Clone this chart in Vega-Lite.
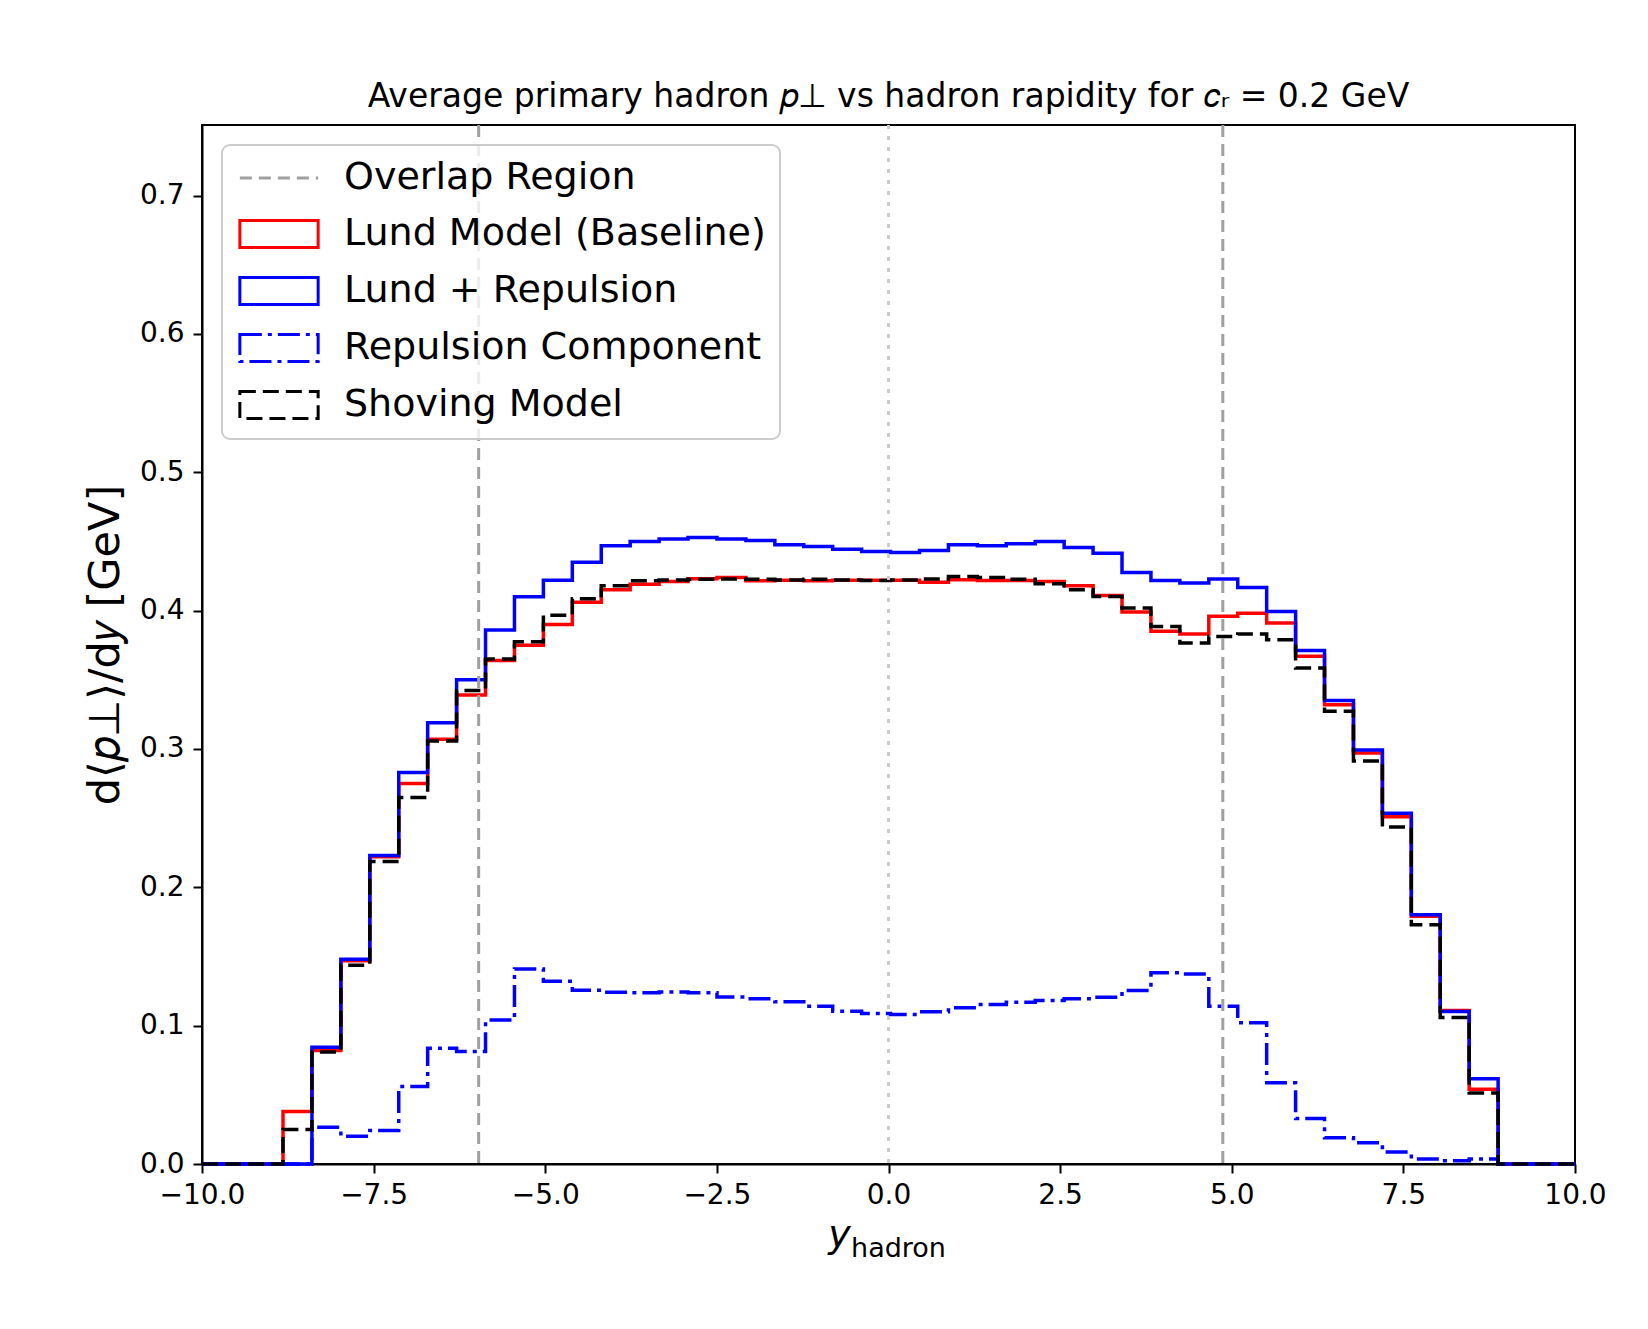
{
  "$schema": "https://vega.github.io/schema/vega-lite/v6.json",
  "width": 1373,
  "height": 1039,
  "autosize": {"type": "none"},
  "padding": {"left": 202, "top": 125, "right": 73, "bottom": 165},
  "background": "#ffffff",
  "title": {
    "text": "Average primary hadron 𝑝⊥ vs hadron rapidity for 𝑐ᵣ = 0.2 GeV",
    "fontSize": 33,
    "fontWeight": "normal",
    "font": "DejaVu Sans",
    "color": "#000000",
    "anchor": "middle",
    "baseline": "alphabetic",
    "offset": -16
  },
  "datasets": {
    "hist": [
      {"series":"Lund Model (Baseline)","rapidity":-10,"pt":0},
      {"series":"Lund Model (Baseline)","rapidity":-8.82,"pt":0.038},
      {"series":"Lund Model (Baseline)","rapidity":-8.3986,"pt":0.082},
      {"series":"Lund Model (Baseline)","rapidity":-7.9771,"pt":0.147},
      {"series":"Lund Model (Baseline)","rapidity":-7.5557,"pt":0.222},
      {"series":"Lund Model (Baseline)","rapidity":-7.1343,"pt":0.275},
      {"series":"Lund Model (Baseline)","rapidity":-6.7129,"pt":0.307},
      {"series":"Lund Model (Baseline)","rapidity":-6.2914,"pt":0.339},
      {"series":"Lund Model (Baseline)","rapidity":-5.87,"pt":0.364},
      {"series":"Lund Model (Baseline)","rapidity":-5.4486,"pt":0.375},
      {"series":"Lund Model (Baseline)","rapidity":-5.0271,"pt":0.390},
      {"series":"Lund Model (Baseline)","rapidity":-4.6057,"pt":0.406},
      {"series":"Lund Model (Baseline)","rapidity":-4.1843,"pt":0.415},
      {"series":"Lund Model (Baseline)","rapidity":-3.7629,"pt":0.419},
      {"series":"Lund Model (Baseline)","rapidity":-3.3414,"pt":0.421},
      {"series":"Lund Model (Baseline)","rapidity":-2.92,"pt":0.423},
      {"series":"Lund Model (Baseline)","rapidity":-2.4986,"pt":0.424},
      {"series":"Lund Model (Baseline)","rapidity":-2.0771,"pt":0.4215},
      {"series":"Lund Model (Baseline)","rapidity":-1.6557,"pt":0.422},
      {"series":"Lund Model (Baseline)","rapidity":-1.2343,"pt":0.4215},
      {"series":"Lund Model (Baseline)","rapidity":-0.8129,"pt":0.422},
      {"series":"Lund Model (Baseline)","rapidity":-0.3914,"pt":0.422},
      {"series":"Lund Model (Baseline)","rapidity":0.03,"pt":0.422},
      {"series":"Lund Model (Baseline)","rapidity":0.4514,"pt":0.4205},
      {"series":"Lund Model (Baseline)","rapidity":0.8729,"pt":0.4223},
      {"series":"Lund Model (Baseline)","rapidity":1.2943,"pt":0.4218},
      {"series":"Lund Model (Baseline)","rapidity":1.7157,"pt":0.4218},
      {"series":"Lund Model (Baseline)","rapidity":2.1371,"pt":0.421},
      {"series":"Lund Model (Baseline)","rapidity":2.5586,"pt":0.418},
      {"series":"Lund Model (Baseline)","rapidity":2.98,"pt":0.411},
      {"series":"Lund Model (Baseline)","rapidity":3.4014,"pt":0.399},
      {"series":"Lund Model (Baseline)","rapidity":3.8229,"pt":0.385},
      {"series":"Lund Model (Baseline)","rapidity":4.2443,"pt":0.383},
      {"series":"Lund Model (Baseline)","rapidity":4.6657,"pt":0.396},
      {"series":"Lund Model (Baseline)","rapidity":5.0871,"pt":0.398},
      {"series":"Lund Model (Baseline)","rapidity":5.5086,"pt":0.391},
      {"series":"Lund Model (Baseline)","rapidity":5.93,"pt":0.367},
      {"series":"Lund Model (Baseline)","rapidity":6.3514,"pt":0.332},
      {"series":"Lund Model (Baseline)","rapidity":6.7729,"pt":0.297},
      {"series":"Lund Model (Baseline)","rapidity":7.1943,"pt":0.251},
      {"series":"Lund Model (Baseline)","rapidity":7.6157,"pt":0.179},
      {"series":"Lund Model (Baseline)","rapidity":8.0371,"pt":0.111},
      {"series":"Lund Model (Baseline)","rapidity":8.4586,"pt":0.054},
      {"series":"Lund Model (Baseline)","rapidity":8.88,"pt":0},
      {"series":"Lund Model (Baseline)","rapidity":10,"pt":0},

      {"series":"Lund + Repulsion","rapidity":-10,"pt":0},
      {"series":"Lund + Repulsion","rapidity":-8.82,"pt":0},
      {"series":"Lund + Repulsion","rapidity":-8.3986,"pt":0.0843},
      {"series":"Lund + Repulsion","rapidity":-7.9771,"pt":0.148},
      {"series":"Lund + Repulsion","rapidity":-7.5557,"pt":0.223},
      {"series":"Lund + Repulsion","rapidity":-7.1343,"pt":0.283},
      {"series":"Lund + Repulsion","rapidity":-6.7129,"pt":0.319},
      {"series":"Lund + Repulsion","rapidity":-6.2914,"pt":0.350},
      {"series":"Lund + Repulsion","rapidity":-5.87,"pt":0.386},
      {"series":"Lund + Repulsion","rapidity":-5.4486,"pt":0.410},
      {"series":"Lund + Repulsion","rapidity":-5.0271,"pt":0.422},
      {"series":"Lund + Repulsion","rapidity":-4.6057,"pt":0.435},
      {"series":"Lund + Repulsion","rapidity":-4.1843,"pt":0.4468},
      {"series":"Lund + Repulsion","rapidity":-3.7629,"pt":0.450},
      {"series":"Lund + Repulsion","rapidity":-3.3414,"pt":0.4517},
      {"series":"Lund + Repulsion","rapidity":-2.92,"pt":0.4528},
      {"series":"Lund + Repulsion","rapidity":-2.4986,"pt":0.4517},
      {"series":"Lund + Repulsion","rapidity":-2.0771,"pt":0.4507},
      {"series":"Lund + Repulsion","rapidity":-1.6557,"pt":0.4476},
      {"series":"Lund + Repulsion","rapidity":-1.2343,"pt":0.4464},
      {"series":"Lund + Repulsion","rapidity":-0.8129,"pt":0.4444},
      {"series":"Lund + Repulsion","rapidity":-0.3914,"pt":0.4427},
      {"series":"Lund + Repulsion","rapidity":0.03,"pt":0.442},
      {"series":"Lund + Repulsion","rapidity":0.4514,"pt":0.4434},
      {"series":"Lund + Repulsion","rapidity":0.8729,"pt":0.4476},
      {"series":"Lund + Repulsion","rapidity":1.2943,"pt":0.4468},
      {"series":"Lund + Repulsion","rapidity":1.7157,"pt":0.4483},
      {"series":"Lund + Repulsion","rapidity":2.1371,"pt":0.450},
      {"series":"Lund + Repulsion","rapidity":2.5586,"pt":0.4456},
      {"series":"Lund + Repulsion","rapidity":2.98,"pt":0.4415},
      {"series":"Lund + Repulsion","rapidity":3.4014,"pt":0.4276},
      {"series":"Lund + Repulsion","rapidity":3.8229,"pt":0.4218},
      {"series":"Lund + Repulsion","rapidity":4.2443,"pt":0.4199},
      {"series":"Lund + Repulsion","rapidity":4.6657,"pt":0.4228},
      {"series":"Lund + Repulsion","rapidity":5.0871,"pt":0.4167},
      {"series":"Lund + Repulsion","rapidity":5.5086,"pt":0.3994},
      {"series":"Lund + Repulsion","rapidity":5.93,"pt":0.3712},
      {"series":"Lund + Repulsion","rapidity":6.3514,"pt":0.335},
      {"series":"Lund + Repulsion","rapidity":6.7729,"pt":0.2993},
      {"series":"Lund + Repulsion","rapidity":7.1943,"pt":0.2536},
      {"series":"Lund + Repulsion","rapidity":7.6157,"pt":0.1802},
      {"series":"Lund + Repulsion","rapidity":8.0371,"pt":0.1102},
      {"series":"Lund + Repulsion","rapidity":8.4586,"pt":0.0617},
      {"series":"Lund + Repulsion","rapidity":8.88,"pt":0},
      {"series":"Lund + Repulsion","rapidity":10,"pt":0},

      {"series":"Repulsion Component","rapidity":-10,"pt":0},
      {"series":"Repulsion Component","rapidity":-8.82,"pt":0},
      {"series":"Repulsion Component","rapidity":-8.3986,"pt":0.0266},
      {"series":"Repulsion Component","rapidity":-7.9771,"pt":0.020},
      {"series":"Repulsion Component","rapidity":-7.5557,"pt":0.0243},
      {"series":"Repulsion Component","rapidity":-7.1343,"pt":0.056},
      {"series":"Repulsion Component","rapidity":-6.7129,"pt":0.0837},
      {"series":"Repulsion Component","rapidity":-6.2914,"pt":0.0814},
      {"series":"Repulsion Component","rapidity":-5.87,"pt":0.104},
      {"series":"Repulsion Component","rapidity":-5.4486,"pt":0.141},
      {"series":"Repulsion Component","rapidity":-5.0271,"pt":0.1321},
      {"series":"Repulsion Component","rapidity":-4.6057,"pt":0.1256},
      {"series":"Repulsion Component","rapidity":-4.1843,"pt":0.1242},
      {"series":"Repulsion Component","rapidity":-3.7629,"pt":0.1237},
      {"series":"Repulsion Component","rapidity":-3.3414,"pt":0.1244},
      {"series":"Repulsion Component","rapidity":-2.92,"pt":0.1237},
      {"series":"Repulsion Component","rapidity":-2.4986,"pt":0.1208},
      {"series":"Repulsion Component","rapidity":-2.0771,"pt":0.1194},
      {"series":"Repulsion Component","rapidity":-1.6557,"pt":0.1172},
      {"series":"Repulsion Component","rapidity":-1.2343,"pt":0.1141},
      {"series":"Repulsion Component","rapidity":-0.8129,"pt":0.1105},
      {"series":"Repulsion Component","rapidity":-0.3914,"pt":0.1088},
      {"series":"Repulsion Component","rapidity":0.03,"pt":0.108},
      {"series":"Repulsion Component","rapidity":0.4514,"pt":0.110},
      {"series":"Repulsion Component","rapidity":0.8729,"pt":0.1129},
      {"series":"Repulsion Component","rapidity":1.2943,"pt":0.1153},
      {"series":"Repulsion Component","rapidity":1.7157,"pt":0.117},
      {"series":"Repulsion Component","rapidity":2.1371,"pt":0.1182},
      {"series":"Repulsion Component","rapidity":2.5586,"pt":0.1194},
      {"series":"Repulsion Component","rapidity":2.98,"pt":0.1206},
      {"series":"Repulsion Component","rapidity":3.4014,"pt":0.1254},
      {"series":"Repulsion Component","rapidity":3.8229,"pt":0.1382},
      {"series":"Repulsion Component","rapidity":4.2443,"pt":0.1374},
      {"series":"Repulsion Component","rapidity":4.6657,"pt":0.1141},
      {"series":"Repulsion Component","rapidity":5.0871,"pt":0.1021},
      {"series":"Repulsion Component","rapidity":5.5086,"pt":0.0587},
      {"series":"Repulsion Component","rapidity":5.93,"pt":0.0329},
      {"series":"Repulsion Component","rapidity":6.3514,"pt":0.019},
      {"series":"Repulsion Component","rapidity":6.7729,"pt":0.0154},
      {"series":"Repulsion Component","rapidity":7.1943,"pt":0.0086},
      {"series":"Repulsion Component","rapidity":7.6157,"pt":0.0037},
      {"series":"Repulsion Component","rapidity":8.0371,"pt":0.0023},
      {"series":"Repulsion Component","rapidity":8.4586,"pt":0.0037},
      {"series":"Repulsion Component","rapidity":8.88,"pt":0},
      {"series":"Repulsion Component","rapidity":10,"pt":0},

      {"series":"Shoving Model","rapidity":-10,"pt":0},
      {"series":"Shoving Model","rapidity":-8.82,"pt":0.025},
      {"series":"Shoving Model","rapidity":-8.3986,"pt":0.081},
      {"series":"Shoving Model","rapidity":-7.9771,"pt":0.1437},
      {"series":"Shoving Model","rapidity":-7.5557,"pt":0.2186},
      {"series":"Shoving Model","rapidity":-7.1343,"pt":0.265},
      {"series":"Shoving Model","rapidity":-6.7129,"pt":0.3057},
      {"series":"Shoving Model","rapidity":-6.2914,"pt":0.3423},
      {"series":"Shoving Model","rapidity":-5.87,"pt":0.3651},
      {"series":"Shoving Model","rapidity":-5.4486,"pt":0.3774},
      {"series":"Shoving Model","rapidity":-5.0271,"pt":0.3966},
      {"series":"Shoving Model","rapidity":-4.6057,"pt":0.4085},
      {"series":"Shoving Model","rapidity":-4.1843,"pt":0.418},
      {"series":"Shoving Model","rapidity":-3.7629,"pt":0.4215},
      {"series":"Shoving Model","rapidity":-3.3414,"pt":0.4222},
      {"series":"Shoving Model","rapidity":-2.92,"pt":0.4226},
      {"series":"Shoving Model","rapidity":-2.4986,"pt":0.4229},
      {"series":"Shoving Model","rapidity":-2.0771,"pt":0.4226},
      {"series":"Shoving Model","rapidity":-1.6557,"pt":0.4222},
      {"series":"Shoving Model","rapidity":-1.2343,"pt":0.4226},
      {"series":"Shoving Model","rapidity":-0.8129,"pt":0.4222},
      {"series":"Shoving Model","rapidity":-0.3914,"pt":0.4218},
      {"series":"Shoving Model","rapidity":0.03,"pt":0.4222},
      {"series":"Shoving Model","rapidity":0.4514,"pt":0.4229},
      {"series":"Shoving Model","rapidity":0.8729,"pt":0.4247},
      {"series":"Shoving Model","rapidity":1.2943,"pt":0.4239},
      {"series":"Shoving Model","rapidity":1.7157,"pt":0.4226},
      {"series":"Shoving Model","rapidity":2.1371,"pt":0.4194},
      {"series":"Shoving Model","rapidity":2.5586,"pt":0.415},
      {"series":"Shoving Model","rapidity":2.98,"pt":0.4102},
      {"series":"Shoving Model","rapidity":3.4014,"pt":0.4018},
      {"series":"Shoving Model","rapidity":3.8229,"pt":0.3885},
      {"series":"Shoving Model","rapidity":4.2443,"pt":0.3766},
      {"series":"Shoving Model","rapidity":4.6657,"pt":0.3813},
      {"series":"Shoving Model","rapidity":5.0871,"pt":0.383},
      {"series":"Shoving Model","rapidity":5.5086,"pt":0.379},
      {"series":"Shoving Model","rapidity":5.93,"pt":0.3586},
      {"series":"Shoving Model","rapidity":6.3514,"pt":0.3272},
      {"series":"Shoving Model","rapidity":6.7729,"pt":0.2913},
      {"series":"Shoving Model","rapidity":7.1943,"pt":0.2436},
      {"series":"Shoving Model","rapidity":7.6157,"pt":0.173},
      {"series":"Shoving Model","rapidity":8.0371,"pt":0.1059},
      {"series":"Shoving Model","rapidity":8.4586,"pt":0.0514},
      {"series":"Shoving Model","rapidity":8.88,"pt":0},
      {"series":"Shoving Model","rapidity":10,"pt":0}
    ],
    "overlap": [
      {"series":"Overlap Region","rapidity":-5.97},
      {"series":"Overlap Region","rapidity":4.87}
    ]
  },
  "layer": [
    {
      "data": {"name": "hist"},
      "mark": {"type": "line", "interpolate": "step-after", "strokeWidth": 3.5},
      "encoding": {
        "x": {"field": "rapidity", "type": "quantitative",
              "scale": {"domain": [-10, 10], "nice": false, "zero": false},
              "axis": {"values": [-10, -7.5, -5, -2.5, 0, 2.5, 5, 7.5, 10], "format": ".1f", "title": null, "labelPadding": 8}},
        "y": {"field": "pt", "type": "quantitative",
              "scale": {"domain": [0, 0.751], "nice": false, "zero": false},
              "axis": {"values": [0, 0.1, 0.2, 0.3, 0.4, 0.5, 0.6, 0.7], "format": ".1f",
                       "title": "d⟨𝑝⊥⟩/d𝑦 [GeV]", "titleFontSize": 43, "titleFontWeight": "normal", "titlePadding": 12, "labelPadding": 9}},
        "stroke": {"field": "series", "type": "nominal",
                   "scale": {"domain": ["Overlap Region", "Lund Model (Baseline)", "Lund + Repulsion", "Repulsion Component", "Shoving Model"],
                             "range": ["#a0a0a0", "#ff0000", "#0000ff", "#0000ff", "#000000"]},
                   "legend": {"title": null,
                              "encode": {"symbols": {"update": {"shape": {"signal": "datum.value === 'Overlap Region' ? 'M-2.9,0H2.9' : 'M-2.9,-1H2.9V1H-2.9Z'"}}},
                                         "legend": {"update": {"strokeWidth": {"value": 2}}}}}},
        "strokeDash": {"field": "series", "type": "nominal",
                       "scale": {"domain": ["Overlap Region", "Lund Model (Baseline)", "Lund + Repulsion", "Repulsion Component", "Shoving Model"],
                                 "range": [[12, 7], [1, 0], [1, 0], [22, 6, 4, 6], [16, 7]]},
                       "legend": {"title": null}}
      }
    },
    {
      "data": {"name": "overlap"},
      "mark": {"type": "rule", "strokeWidth": 3},
      "encoding": {
        "x": {"field": "rapidity", "type": "quantitative"},
        "stroke": {"field": "series", "type": "nominal"},
        "strokeDash": {"field": "series", "type": "nominal"}
      }
    },
    {
      "data": {"values": [{}]},
      "mark": {"type": "rule", "strokeWidth": 3, "stroke": "#cccccc", "strokeDash": [4, 7]},
      "encoding": {"x": {"datum": 0}}
    },
    {
      "data": {"values": [{}]},
      "mark": {"type": "text", "text": "y", "font": "DejaVu Sans", "fontStyle": "italic", "fontSize": 38, "align": "center", "baseline": "alphabetic", "color": "#000000"},
      "encoding": {"x": {"datum": -0.714}, "y": {"datum": -0.060}}
    },
    {
      "data": {"values": [{}]},
      "mark": {"type": "text", "text": "hadron", "font": "DejaVu Sans", "fontSize": 27, "align": "left", "baseline": "alphabetic", "color": "#000000"},
      "encoding": {"x": {"datum": -0.546}, "y": {"datum": -0.067}}
    }
  ],
  "config": {
    "font": "DejaVu Sans",
    "view": {"stroke": "#000000", "strokeWidth": 2},
    "axis": {"grid": false, "labelFont": "DejaVu Sans", "titleFont": "DejaVu Sans", "labelColor": "#000000", "titleColor": "#000000",
             "tickColor": "#000000", "domainColor": "#000000", "labelFontSize": 28, "tickSize": 9, "tickWidth": 2, "domainWidth": 2,
             "labelFlush": false, "labelOverlap": false},
    "legend": {"orient": "top-left", "offset": 20, "fillColor": "rgba(255,255,255,0.8)", "strokeColor": "#cccccc", "cornerRadius": 8, "padding": 14,
               "labelFont": "DejaVu Sans", "labelFontSize": 38, "labelColor": "#000000", "labelLimit": 2000,
               "symbolType": "M-2.9,-1H2.9V1H-2.9Z", "symbolSize": 729, "symbolStrokeWidth": 3, "symbolFillColor": "transparent",
               "symbolOffset": 24, "labelOffset": 46, "rowPadding": 17}
  }
}
